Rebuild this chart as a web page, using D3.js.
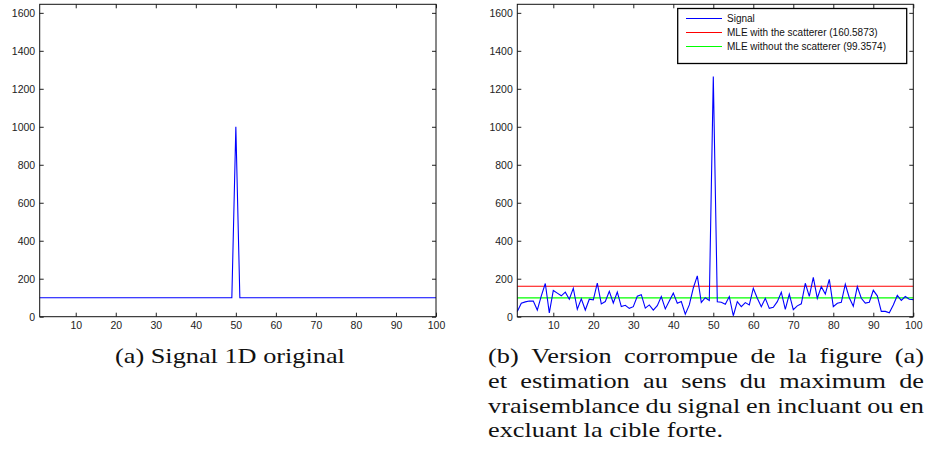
<!DOCTYPE html>
<html lang="fr">
<head>
<meta charset="UTF-8">
<title>Signal 1D original / version corrompue</title>
<script src="https://d3js.org/d3.v7.min.js"></script>
<style>
    body { margin: 0; background: #fff; }
    .tick text {
        font-family: "Liberation Sans", Arial, sans-serif;
        font-size: 10.5px;
        fill: #222;
    }
    .tick line { stroke: #222; }
    .box { fill: none; stroke: #111; stroke-width: 1; }
    .legend text {
        font-family: "Liberation Sans", Arial, sans-serif;
        font-size: 10px;
        fill: #111;
    }
    .caption {
        font-family: "Liberation Serif", "Times New Roman", serif;
        fill: #111;
    }
</style>
</head>
<body>
<svg id="fig" width="925" height="460"></svg>
<script>
    // sample index 1..100
    var samples = d3.range(1, 101);

    // (a) original signal : flat 100 with one strong target at 50
    var signalOriginal = [
        100, 100, 100, 100, 100, 100, 100, 100, 100, 100,
        100, 100, 100, 100, 100, 100, 100, 100, 100, 100,
        100, 100, 100, 100, 100, 100, 100, 100, 100, 100,
        100, 100, 100, 100, 100, 100, 100, 100, 100, 100,
        100, 100, 100, 100, 100, 100, 100, 100, 100, 1000,
        100, 100, 100, 100, 100, 100, 100, 100, 100, 100,
        100, 100, 100, 100, 100, 100, 100, 100, 100, 100,
        100, 100, 100, 100, 100, 100, 100, 100, 100, 100,
        100, 100, 100, 100, 100, 100, 100, 100, 100, 100,
        100, 100, 100, 100, 100, 100, 100, 100, 100, 100
    ];

    // (b) corrupted signal
    var signalNoisy = [
        27, 71, 78, 83, 82, 35, 110, 175, 20, 138,
        124, 110, 129, 92, 150, 39, 94, 35, 92, 89,
        177, 67, 80, 134, 72, 130, 53, 60, 44, 53,
        108, 116, 45, 62, 35, 58, 106, 41, 83, 124,
        71, 80, 13, 62, 151, 215, 75, 100, 85, 1265,
        79, 76, 66, 106, 5, 79, 53, 74, 62, 150,
        97, 53, 97, 44, 50, 79, 129, 39, 119, 37,
        57, 68, 176, 107, 207, 97, 158, 119, 197, 53,
        71, 76, 171, 100, 55, 158, 97, 72, 76, 139,
        110, 28, 28, 21, 62, 112, 86, 106, 92, 90
    ];

    var mleWith = 160.5873;
    var mleWithout = 99.3574;

    var yTicks = [0, 200, 400, 600, 800, 1000, 1200, 1400, 1600];
    var xTicks = [10, 20, 30, 40, 50, 60, 70, 80, 90, 100];

    var legendLabels = [
        "Signal",
        "MLE with the scatterer (" + mleWith + ")",
        "MLE without the scatterer (" + mleWithout + ")"
    ];
    var legendColors = ["#0000ff", "#ff0000", "#00ff00"];

    var captionA = "(a) Signal 1D original";
    var captionB = [
        "(b) Version corrompue de la figure (a)",
        "et estimation au sens du maximum de",
        "vraisemblance du signal en incluant ou en",
        "excluant la cible forte."
    ];

    var svg = d3.select("#fig");
    svg.append("rect").attr("width", 925).attr("height", 460).attr("fill", "#fff");

    var yTop = 4.3, yBottom = 316.7;
    var y = d3.scaleLinear().domain([0, 1645]).range([yBottom, yTop]);

    var panels = [
        { left: 39.7, right: 436, values: signalOriginal, mle: false },
        { left: 517.3, right: 913.3, values: signalNoisy, mle: true }
    ];

    panels.forEach(function (p) {
        var x = d3.scaleLinear().domain([1, 100]).range([p.left, p.right]);
        var g = svg.append("g");

        g.append("g")
            .attr("transform", "translate(" + p.left + ",0)")
            .call(d3.axisLeft(y).tickValues(yTicks).tickSize(-4).tickPadding(4.5).tickFormat(d3.format("d")))
            .call(function (a) { a.select(".domain").remove(); });
        g.append("g")
            .attr("transform", "translate(" + p.right + ",0)")
            .call(d3.axisRight(y).tickValues(yTicks).tickSize(-4).tickFormat(""))
            .call(function (a) { a.select(".domain").remove(); });
        g.append("g")
            .attr("transform", "translate(0," + yBottom + ")")
            .call(d3.axisBottom(x).tickValues(xTicks).tickSize(-4).tickPadding(5).tickFormat(d3.format("d")))
            .call(function (a) { a.select(".domain").remove(); });
        g.append("g")
            .attr("transform", "translate(0," + yTop + ")")
            .call(d3.axisTop(x).tickValues(xTicks).tickSize(-4).tickFormat(""))
            .call(function (a) { a.select(".domain").remove(); });

        var line = d3.line()
            .x(function (d, i) { return x(samples[i]); })
            .y(function (d) { return y(d); });

        if (p.mle) {
            [mleWith, mleWithout].forEach(function (v, k) {
                g.append("line")
                    .attr("x1", x(1)).attr("x2", x(100))
                    .attr("y1", y(v)).attr("y2", y(v))
                    .attr("stroke", legendColors[k + 1])
                    .attr("stroke-width", 1.1);
            });
        }

        g.append("path")
            .datum(p.values)
            .attr("d", line)
            .attr("fill", "none")
            .attr("stroke", "#0000ff")
            .attr("stroke-width", 1.1);

        g.append("rect")
            .attr("class", "box")
            .attr("x", p.left).attr("y", yTop)
            .attr("width", p.right - p.left).attr("height", yBottom - yTop);

        if (p.mle) {
            var lg = g.append("g").attr("class", "legend");
            lg.append("rect")
                .attr("x", 677.7).attr("y", 8.5)
                .attr("width", 229).attr("height", 55)
                .attr("fill", "#fff").attr("stroke", "#000").attr("stroke-width", 1.3);
            legendLabels.forEach(function (t, i) {
                var ly = 18.5 + i * 14;
                lg.append("line")
                    .attr("x1", 686).attr("x2", 722)
                    .attr("y1", ly).attr("y2", ly)
                    .attr("stroke", legendColors[i]).attr("stroke-width", 1.1);
                lg.append("text")
                    .attr("x", 727).attr("y", ly + 3.6)
                    .text(t);
            });
        }
    });

    // captions: LaTeX-like proportions, Times glyphs stretched sideways
    var fs = 20;
    var probe = svg.append("text").attr("class", "caption").style("font-size", fs + "px").text(captionA);
    var sx = 230 / probe.node().getComputedTextLength();
    probe.remove();

    function word(t, cx, yy) {
        return svg.append("text").attr("class", "caption")
            .style("font-size", fs + "px")
            .attr("transform", "translate(" + cx + "," + yy + ") scale(" + sx + ",1)")
            .text(t);
    }

    word(captionA, 115, 363);

    function setLine(words, x0, x1, yy, justify) {
        var nodes = words.map(function (w) { return word(w, 0, yy); });
        var widths = nodes.map(function (n) { return n.node().getComputedTextLength() * sx; });
        var gap = justify ? (x1 - x0 - d3.sum(widths)) / (words.length - 1) : fs * 0.33;
        gap = Math.max(gap, fs * 0.2);
        var cx = x0;
        nodes.forEach(function (n, i) {
            n.attr("transform", "translate(" + cx + "," + yy + ") scale(" + sx + ",1)");
            cx += widths[i] + gap;
        });
    }

    captionB.forEach(function (s, i) {
        setLine(s.split(" "), 488, 924, 363 + i * 24.8, i < captionB.length - 1);
    });
</script>
</body>
</html>
